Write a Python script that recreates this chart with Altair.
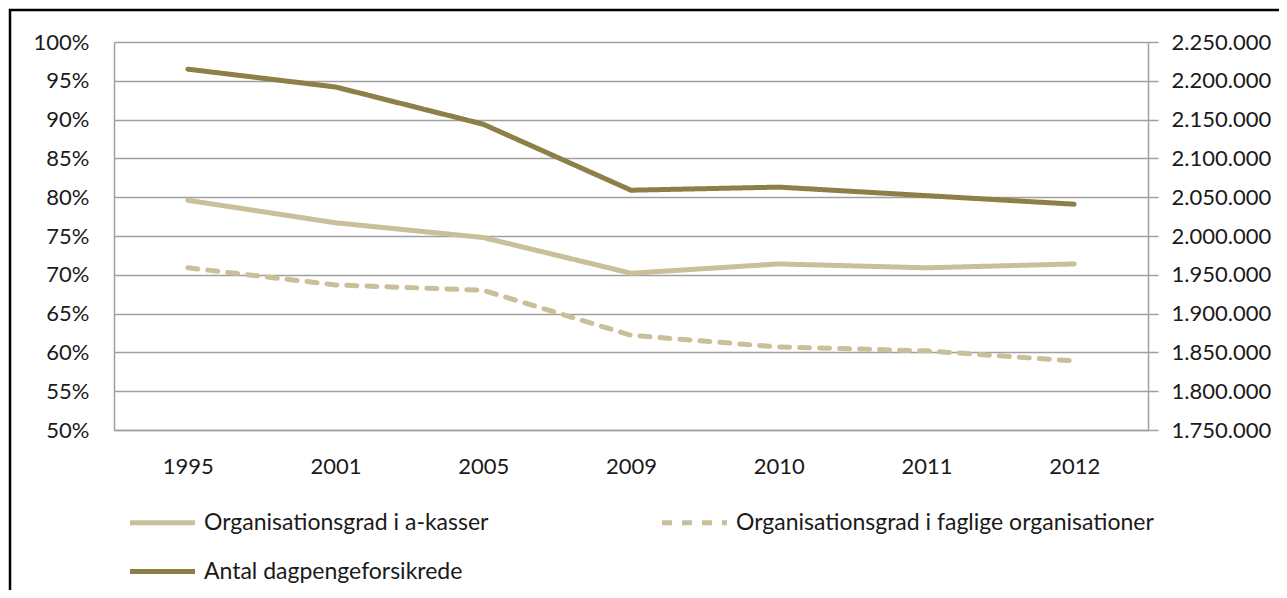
import altair as alt
import pandas as pd

years = ["1995", "2001", "2005", "2009", "2010", "2011", "2012"]
akasser = [0.796, 0.767, 0.748, 0.702, 0.714, 0.709, 0.714]
faglige = [0.709, 0.687, 0.680, 0.622, 0.607, 0.602, 0.589]
antal = [2215000, 2192000, 2144000, 2059000, 2063000, 2052000, 2041000]

s_ak = "Organisationsgrad i a-kasser"
s_fa = "Organisationsgrad i faglige organisationer"
s_an = "Antal dagpengeforsikrede"
series_order = [s_ak, s_fa, s_an]
colors = ["#C9BF98", "#C9BF98", "#8C7F47"]
dashes = [[1, 0], [10, 10], [1, 0]]

pct = pd.DataFrame({
    "year": years * 2,
    "series": [s_ak] * len(years) + [s_fa] * len(years),
    "value": akasser + faglige,
})
cnt = pd.DataFrame({"year": years, "series": [s_an] * len(years), "value": antal})

W, H = 1034, 388
GRID = "#A0A0A0"
FONT = "Lato"


def make_legend():
    return alt.Legend(
        title=None, orient="none", legendX=35, legendY=467, direction="horizontal",
        columns=2, symbolType="M-3,0H3", symbolSize=469, symbolStrokeWidth=5,
        labelFont=FONT, labelFontSize=23, labelColor="#1a1a1a", labelOffset=28,
        columnPadding=163, rowPadding=23, padding=0, labelLimit=600,
    )


color_enc = alt.Color("series:N", scale=alt.Scale(domain=series_order, range=colors),
                      legend=make_legend())
dash_enc = alt.StrokeDash("series:N", scale=alt.Scale(domain=series_order, range=dashes),
                          legend=make_legend())

x_enc = alt.X(
    "year:O", sort=years, title=None,
    axis=alt.Axis(labelAngle=0, ticks=False, domainColor=GRID, domainWidth=1.5,
                  labelPadding=26, labelFontSize=22, labelFont=FONT, labelColor="#1a1a1a"),
)

left = alt.Chart(pct).mark_line(strokeWidth=5, strokeCap="round").encode(
    x=x_enc,
    y=alt.Y("value:Q", title=None,
            scale=alt.Scale(domain=[0.5, 1.0], nice=False, zero=False),
            axis=alt.Axis(format=".0%", values=[0.5, 0.55, 0.6, 0.65, 0.7, 0.75, 0.8, 0.85, 0.9, 0.95, 1.0],
                          ticks=False, grid=True, gridColor=GRID, gridWidth=1.5,
                          domainColor=GRID, domainWidth=1.5, labelPadding=25,
                          labelFontSize=22, labelFont=FONT, labelColor="#1a1a1a")),
    color=color_enc,
    strokeDash=dash_enc,
)

right = alt.Chart(cnt).mark_line(strokeWidth=5, strokeCap="round").encode(
    x=x_enc,
    y=alt.Y("value:Q", title=None,
            scale=alt.Scale(domain=[1750000, 2250000], nice=False, zero=False),
            axis=alt.Axis(orient="right", values=list(range(1750000, 2250001, 50000)),
                          labelExpr="replace(replace(format(datum.value, ','), ',', '.'), ',', '.')",
                          grid=False, ticks=True, tickSize=10, tickColor=GRID, tickWidth=1.5,
                          domainColor=GRID, domainWidth=1.5, labelPadding=13,
                          labelFontSize=22, labelFont=FONT, labelColor="#1a1a1a")),
    color=color_enc,
    strokeDash=dash_enc,
)

frame = alt.Chart(pd.DataFrame({"k": [0]})).mark_rect(
    filled=False, stroke="#000000", strokeWidth=2.5
).encode(
    x=alt.value(-104), y=alt.value(-32), x2=alt.value(1300), y2=alt.value(700)
)

chart = alt.layer(left, right, frame).resolve_scale(y="independent").properties(
    width=W, height=H,
    autosize=alt.AutoSizeParams(type="none"),
    padding={"left": 106, "top": 34, "right": 131, "bottom": 160},
    background="white",
).configure_view(stroke=None).configure(font=FONT)

chart.save("out.html", embed_options={"renderer": "svg", "actions": False})
